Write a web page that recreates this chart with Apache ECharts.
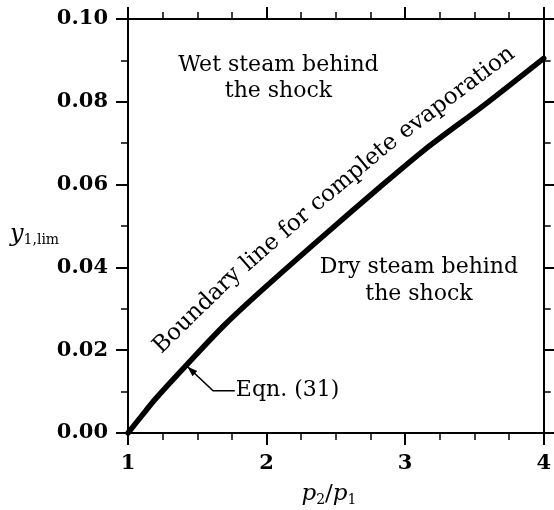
<!DOCTYPE html>
<html>
<head>
<meta charset="utf-8">
<script src="https://cdn.jsdelivr.net/npm/echarts@6/dist/echarts.min.js"></script>
<style>
  html, body { margin: 0; padding: 0; background: #fff; }
  #chart { width: 554px; height: 510px; }
</style>
</head>
<body>
<div id="chart"></div>
<script>
// Pressure ratio across the shock and the limiting wetness (Eqn. 31)
const pressureRatio = [1.0, 1.1, 1.2, 1.43, 1.7, 2.0, 2.43, 2.79, 3.14, 3.57, 4.0];
const yLim = [0, 0.0042, 0.0083, 0.0167, 0.0262, 0.0355, 0.0482, 0.0586, 0.0684, 0.0792, 0.0905];

const captionText = 'Boundary line for complete evaporation';

const serif = '"DejaVu Serif", "Liberation Serif", serif';
const ink = '#000';

const chart = echarts.init(document.getElementById('chart'), null, { renderer: 'canvas' });

const tickCommon = {
  axisLine: { show: true, onZero: false, lineStyle: { color: ink, width: 2 } },
  axisTick: { show: true, length: 12, lineStyle: { color: ink, width: 2 } },
  minorTick: { show: true, length: 7, lineStyle: { color: ink, width: 1.5 } },
  splitLine: { show: false },
  minorSplitLine: { show: false }
};
const tickLabel = { show: true, margin: 20, color: ink, fontFamily: serif, fontSize: 21, fontWeight: 'bold' };

function axis(base, minorSplit) {
  return Object.assign({}, base, tickCommon, {
    minorTick: Object.assign({}, tickCommon.minorTick, { splitNumber: minorSplit })
  });
}

chart.setOption({
  animation: false,
  backgroundColor: '#fff',
  grid: { left: 128, right: 6, top: 19, bottom: 77, containLabel: false },
  xAxis: [
    axis({ type: 'value', min: 1, max: 4, interval: 1, position: 'bottom', axisLabel: tickLabel }, 4),
    axis({ type: 'value', min: 1, max: 4, interval: 1, position: 'top', axisLabel: { show: false } }, 4)
  ],
  yAxis: [
    axis({ type: 'value', min: 0, max: 0.1, interval: 0.02, position: 'left',
           axisLabel: Object.assign({}, tickLabel, { formatter: v => v.toFixed(2) }) }, 2),
    axis({ type: 'value', min: 0, max: 0.1, interval: 0.02, position: 'right', axisLabel: { show: false } }, 2)
  ],
  series: [{
    type: 'line',
    xAxisIndex: 0,
    yAxisIndex: 0,
    data: pressureRatio.map((p, i) => [p, yLim[i]]),
    smooth: 0.3,
    showSymbol: false,
    lineStyle: { color: ink, width: 5.5, cap: 'round' },
    silent: true
  }]
});

function px(x, y) { return chart.convertToPixel({ gridIndex: 0 }, [x, y]); }

const graphics = [];

// Caption laid word by word along a path offset above the curve
(function () {
  const fontSize = 23;
  const font = fontSize + 'px ' + serif;
  const offStart = 31, offEnd = 25;
  const pts = pressureRatio.map((p, i) => px(p, yLim[i]));
  const off = pts.map((pt, i) => {
    const a = pts[Math.max(0, i - 1)], b = pts[Math.min(pts.length - 1, i + 1)];
    const dx = b[0] - a[0], dy = b[1] - a[1], len = Math.hypot(dx, dy);
    const d = offStart + (offEnd - offStart) * (pressureRatio[i] - 1) / 3;
    return [pt[0] + d * dy / len, pt[1] - d * dx / len];
  });
  const cum = [0];
  for (let i = 1; i < off.length; i++) cum.push(cum[i - 1] + Math.hypot(off[i][0] - off[i - 1][0], off[i][1] - off[i - 1][1]));
  function at(s) {
    let i = 1;
    while (i < off.length - 1 && cum[i] < s) i++;
    const t = (s - cum[i - 1]) / (cum[i] - cum[i - 1]);
    return [off[i - 1][0] + t * (off[i][0] - off[i - 1][0]), off[i - 1][1] + t * (off[i][1] - off[i - 1][1])];
  }
  // start where the path reaches the left edge of the first word
  let s0 = 0;
  while (at(s0)[0] < 158 && s0 < cum[cum.length - 1]) s0 += 0.5;

  const ctx = document.createElement('canvas').getContext('2d');
  ctx.font = font;
  const space = ctx.measureText(' ').width;
  let s = s0;
  captionText.split(' ').forEach(word => {
    const w = ctx.measureText(word).width;
    const a = at(s), b = at(s + w), c = at(s + w / 2);
    const ang = Math.atan2(-(b[1] - a[1]), b[0] - a[0]);
    graphics.push({
      type: 'text', x: c[0], y: c[1], rotation: ang,
      style: { text: word, font: font, fill: ink, textAlign: 'center', textVerticalAlign: 'middle' }
    });
    s += w + space;
  });
})();

const wet = px(2.086, 0.0858);
graphics.push({
  type: 'text', x: wet[0], y: wet[1],
  style: { text: 'Wet steam behind\nthe shock', font: '22px ' + serif, fill: ink,
           textAlign: 'center', textVerticalAlign: 'middle', textLineHeight: 26 }
});

const dry = px(3.1, 0.0368);
graphics.push({
  type: 'text', x: dry[0], y: dry[1],
  style: { text: 'Dry steam behind\nthe shock', font: '22px ' + serif, fill: ink,
           textAlign: 'center', textVerticalAlign: 'middle', textLineHeight: 27 }
});

// Leader from the Eqn. (31) label to the curve
const tip = px(1.43, 0.0160);
const elbow = px(1.614, 0.0102);
const end = px(1.771, 0.0102);
graphics.push({
  type: 'polyline',
  shape: { points: [tip, elbow, end] },
  style: { stroke: ink, lineWidth: 1.6, fill: null }
});
const ang = Math.atan2(elbow[1] - tip[1], elbow[0] - tip[0]);
const L = 10, W = 3.5;
graphics.push({
  type: 'polygon',
  shape: { points: [
    tip,
    [tip[0] + L * Math.cos(ang) - W * Math.sin(ang), tip[1] + L * Math.sin(ang) + W * Math.cos(ang)],
    [tip[0] + L * Math.cos(ang) + W * Math.sin(ang), tip[1] + L * Math.sin(ang) - W * Math.cos(ang)]
  ] },
  style: { fill: ink }
});
graphics.push({
  type: 'text', x: end[0] + 1, y: end[1],
  style: { text: 'Eqn. (31)', font: '22px ' + serif, fill: ink, textAlign: 'left', textVerticalAlign: 'middle' }
});

// Axis titles
const xt = px(2.45, 0);
graphics.push({
  type: 'text', x: xt[0], y: 494,
  style: {
    text: '{i|p}{s|2}{n|/}{i|p}{s|1}',
    textAlign: 'center', textVerticalAlign: 'middle',
    rich: {
      i: { fontFamily: serif, fontStyle: 'italic', fontSize: 23, color: ink },
      n: { fontFamily: serif, fontSize: 23, color: ink },
      s: { fontFamily: serif, fontSize: 14, color: ink, padding: [12, 0, 0, 0] }
    }
  }
});

const yt = px(1, 0.048);
graphics.push({
  type: 'text', x: 10, y: yt[1],
  style: {
    text: '{i|y}{s|1,lim}',
    textAlign: 'left', textVerticalAlign: 'middle',
    rich: {
      i: { fontFamily: serif, fontStyle: 'italic', fontSize: 24, color: ink },
      s: { fontFamily: serif, fontSize: 14, color: ink, padding: [12, 0, 0, 0] }
    }
  }
});

chart.setOption({ graphic: graphics });
</script>
</body>
</html>
